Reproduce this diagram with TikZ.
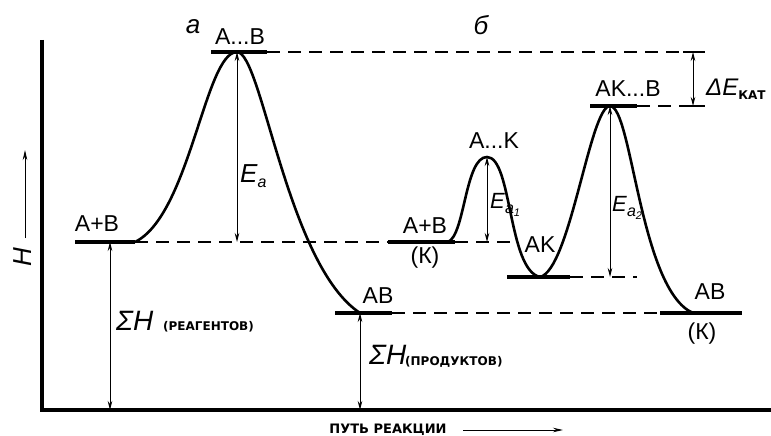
\documentclass[tikz,border=0pt]{standalone}
\usepackage{fontspec}
\setmainfont{Liberation Sans}
\newfontfamily\capsfont{DejaVu Sans}
\usetikzlibrary{arrows.meta, positioning, calc}
\newcommand{\Esub}[1]{\textit{E}\raisebox{-5pt}{\fontsize{16}{16}\selectfont\textit{#1}}}

\begin{document}
\begin{tikzpicture}[
    x=1pt, y=-1pt,
    level/.style={line width=3.6pt},
    profile/.style={line width=2.6pt},
    guide/.style={line width=1.6pt, dash pattern=on 13pt off 8pt},
    dim/.style={line width=0.9pt, {Stealth[length=9pt,width=4.5pt]}-{Stealth[length=9pt,width=4.5pt]}},
    lbl/.style={inner sep=0pt, font=\fontsize{23}{25}\selectfont},
    sym/.style={inner sep=0pt, font=\fontsize{26}{28}\selectfont\itshape},
    tag/.style={inner sep=0pt, font=\capsfont\bfseries\fontsize{12}{14}\selectfont}
]
    \useasboundingbox (0,0) rectangle (771,436);

    % axes
    \coordinate (ytop) at (42,40);
    \coordinate (orig) at (42,410);
    \coordinate (xend) at (771,410);
    \draw[line width=4.5pt] (ytop) -- (orig) -- (xend);

    % energy levels
    \coordinate (reagL) at (75,242);
    \coordinate (reagR) at (135,242);
    \coordinate (tsL) at (211,52);
    \coordinate (tsR) at (267,52);
    \coordinate (ts) at (237,52);
    \coordinate (prodL) at (335,313);
    \coordinate (prodR) at (392,313);
    \coordinate (prod) at (360,313);
    \coordinate (reagKL) at (388,242);
    \coordinate (reagKR) at (455,242);
    \coordinate (reagKc) at (448,242);
    \coordinate (tsK1) at (487,157);
    \coordinate (akL) at (507,277);
    \coordinate (akR) at (570,277);
    \coordinate (ak) at (540,277);
    \coordinate (tsK2L) at (590,106);
    \coordinate (tsK2R) at (637,106);
    \coordinate (tsK2) at (610,106);
    \coordinate (prodKL) at (660,313);
    \coordinate (prodKR) at (742,313);
    \coordinate (prodK) at (693,313);
    \coordinate (sumR) at (110,242);
    \coordinate (k1base) at (515,242);
    \coordinate (k2base) at (637,277);
    \coordinate (dEtopL) at (683,52);
    \coordinate (dEtopR) at (705,52);
    \coordinate (dEbotL) at (683,106);
    \coordinate (dEbotR) at (705,106);
    \coordinate (dEtop) at (693,52);
    \coordinate (dEbot) at (693,106);

    \draw[level] (reagL) -- (reagR);
    \draw[level] (tsL) -- (tsR);
    \draw[level] (prodL) -- (prodR);
    \draw[level] (reagKL) -- (reagKR);
    \draw[level] (akL) -- (akR);
    \draw[level] (tsK2L) -- (tsK2R);
    \draw[level] (prodKL) -- (prodKR);

    % dashed guides
    \draw[guide] (reagR) -- (reagKL);
    \draw[guide] (reagKR) -- (k1base);
    \draw[guide] (tsR) -- (dEtopL);
    \draw[guide] (prodR) -- (prodKL);
    \draw[guide] (akR) -- (k2base);
    \draw[guide] (tsK2R) -- (dEbotL);
    \draw[line width=1.2pt] (dEtopL) -- (dEtopR);
    \draw[line width=1.2pt] (dEbotL) -- (dEbotR);

    % reaction profiles
    \draw[profile] (reagR) .. controls (190,215) and (205,52) .. (ts)
        .. controls (262,52) and (287,265) .. (prod);
    \draw[profile] (reagKc) .. controls (465,235) and (465,157) .. (tsK1)
        .. controls (512,157) and (508,270) .. (ak)
        .. controls (570,270) and (590,106) .. (tsK2)
        .. controls (632,106) and (640,290) .. (prodK);

    % dimension arrows
    \draw[dim] (ts) -- (ts |- reagR);
    \draw[dim] (sumR) -- (sumR |- orig);
    \draw[dim] (prod) -- (prod |- orig);
    \draw[dim] (tsK1) -- (tsK1 |- reagR);
    \draw[dim] (tsK2) -- (tsK2 |- ak);
    \draw[dim] (dEtop) -- (dEbot);

    % labels
    \node[sym] (pa) at (193,27) {а};
    \node[sym] (pb) at (481,25) {б};
    \node[lbl] (labTS) at (240,37) {A...B};
    \node[lbl] (labReag) at (97,224) {A+B};
    \node[lbl] (labProd) at (378,296) {AB};
    \node[lbl] (labReagK) at (425,226) {A+B};
    \node[lbl] (labK1) at (425,258) {(К)};
    \node[lbl] (labTSK1) at (494,141) {A...K};
    \node[lbl] (labAK) at (540,245) {AK};
    \node[lbl] (labTSK2) at (628,89) {AK...B};
    \node[lbl] (labProdK) at (710,292) {AB};
    \node[lbl] (labK2) at (702,334) {(К)};

    \node[sym, anchor=west] (ea) at (240,176) {\Esub{a}};
    \node[sym, anchor=west, font=\fontsize{22}{24}\selectfont] (ea1) at (490,205) {\Esub{a\raisebox{-3pt}{\fontsize{11}{11}\selectfont 1}}};
    \node[sym, anchor=west, font=\fontsize{22}{24}\selectfont] (ea2) at (612,208) {\Esub{a\raisebox{-3pt}{\fontsize{11}{11}\selectfont 2}}};

    \node[sym, anchor=west, font=\fontsize{28}{30}\selectfont\itshape] (sumRlab) at (116,321) {ΣH};
    \node[tag, anchor=west] (reagTag) at (163,327) {(РЕАГЕНТОВ)};
    \node[sym, anchor=west, font=\fontsize{28}{30}\selectfont\itshape] (sumPlab) at (369,355) {ΣH};
    \node[tag, anchor=west] (prodTag) at (405,362) {(ПРОДУКТОВ)};

    \node[anchor=west, inner sep=0pt, font=\fontsize{24}{26}\selectfont\itshape] (dElab) at (706,89)
        {ΔE\raisebox{-4pt}{\capsfont\upshape\bfseries\fontsize{12}{12}\selectfont КАТ}};

    % axis captions
    \node[sym, rotate=90] (hlab) at (23,257) {H};
    \coordinate (hS) at (25,238);
    \coordinate (hE) at (25,150);
    \draw[line width=0.9pt, -{Stealth[length=10pt,width=4.5pt]}] (hS) -- (hE);

    \node[tag, font=\capsfont\bfseries\fontsize{13}{15}\selectfont] (pathlab) at (388,430) {ПУТЬ РЕАКЦИИ};
    \coordinate (pathS) at (463,430);
    \coordinate (pathE) at (563,430);
    \draw[line width=1pt, -{Stealth[length=10pt,width=4.5pt]}] (pathS) -- (pathE);
\end{tikzpicture}
\end{document}
